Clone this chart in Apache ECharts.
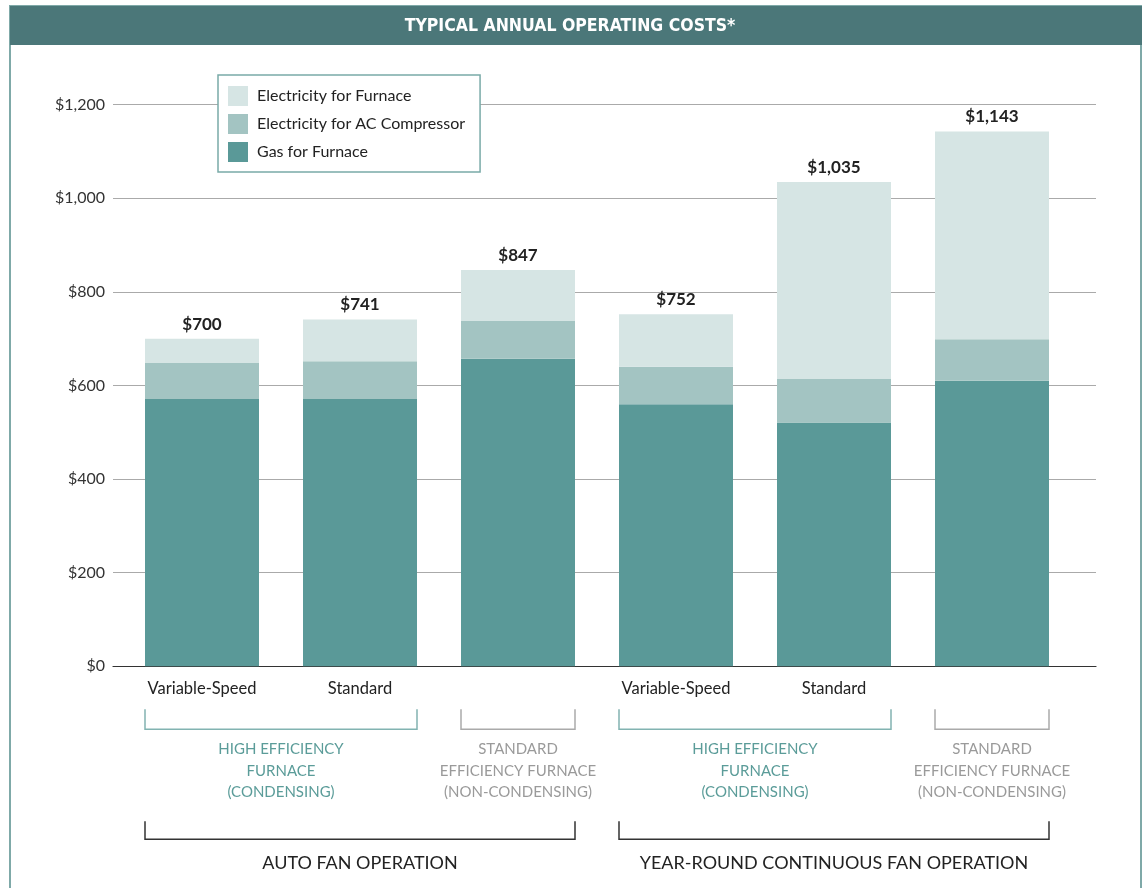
<!DOCTYPE html>
<html>
<head>
<meta charset="utf-8">
<script src="https://cdn.jsdelivr.net/npm/echarts@6/dist/echarts.min.js"></script>
<style>
html,body{margin:0;padding:0;background:#fff;}
#chart{width:1147px;height:888px;}
</style>
</head>
<body>
<div id="chart"></div>
<script>
// ---- data ----
var categories = ['Variable-Speed', 'Standard', '', 'Variable-Speed', 'Standard', ''];
var gasFurnace = [571, 571, 657, 560, 521, 610];
var elecAC = [77, 81, 81, 80, 93, 89];
var elecFurnace = [52, 89, 109, 112, 421, 444];
var totals = [700, 741, 847, 752, 1035, 1143];
var seriesNames = ['Gas for Furnace', 'Electricity for AC Compressor', 'Electricity for Furnace'];
var yTicks = [0, 200, 400, 600, 800, 1000, 1200];
var titleText = 'TYPICAL ANNUAL OPERATING COSTS*';
var subGroups = [
  {from: 0, to: 1, lines: ['HIGH EFFICIENCY', 'FURNACE', '(CONDENSING)'], kind: 'high'},
  {from: 2, to: 2, lines: ['STANDARD', 'EFFICIENCY FURNACE', '(NON-CONDENSING)'], kind: 'std'},
  {from: 3, to: 4, lines: ['HIGH EFFICIENCY', 'FURNACE', '(CONDENSING)'], kind: 'high'},
  {from: 5, to: 5, lines: ['STANDARD', 'EFFICIENCY FURNACE', '(NON-CONDENSING)'], kind: 'std'}
];
var mainGroups = [
  {from: 0, to: 2, text: 'AUTO FAN OPERATION'},
  {from: 3, to: 5, text: 'YEAR-ROUND CONTINUOUS FAN OPERATION'}
];

// ---- styles ----
var FONT = 'Lato, "Open Sans", sans-serif';
var C_GAS = '#5a9998', C_AC = '#a3c4c2', C_EL = '#d6e5e4';
var C_HEAD = '#4b7779', C_BORDER = '#7fa9a8';
var C_TEAL_TXT = '#5b9c99', C_TEAL_LINE = '#82b3b1', C_GRAY_TXT = '#9a9a9a', C_GRAY_LINE = '#aaaaaa';
var BAR_W = 114;
var Y_MIN = yTicks[0], Y_MAX = yTicks[yTicks.length - 1], Y_STEP = yTicks[1] - yTicks[0];

function money(v) {
  return '$' + String(v).replace(/\B(?=(\d{3})+(?!\d))/g, ',');
}

var chart = echarts.init(document.getElementById('chart'), null, {renderer: 'canvas'});

var gridTop = 104.7, gridBottom = 221.7;

var option = {
  backgroundColor: '#fff',
  animation: false,
  textStyle: {fontFamily: FONT},
  legend: {
    orient: 'vertical',
    left: 218, top: 75,
    padding: [11, 15, 10, 10],
    itemWidth: 20, itemHeight: 20, itemGap: 8,
    backgroundColor: '#fff',
    borderColor: '#79aaa8', borderWidth: 1.5,
    icon: 'rect',
    data: [seriesNames[2], seriesNames[1], seriesNames[0]],
    textStyle: {fontFamily: FONT, fontSize: 16, color: '#222', padding: [0, 0, 0, 4]},
    selectedMode: false
  },
  grid: [
    {left: 123, right: 76, top: gridTop, bottom: gridBottom},
    {left: 113, right: 51, top: gridTop, bottom: gridBottom}
  ],
  xAxis: [
    {
      type: 'category', gridIndex: 0, data: categories,
      axisLine: {show: false}, axisTick: {show: false},
      axisLabel: {fontFamily: FONT, fontSize: 16.5, color: '#222', margin: 14, interval: 0}
    },
    {
      type: 'category', gridIndex: 1, data: ['a'],
      axisLine: {show: true, lineStyle: {color: '#333', width: 1.2}},
      axisTick: {show: false}, axisLabel: {show: false}
    }
  ],
  yAxis: [
    {
      type: 'value', gridIndex: 0, min: Y_MIN, max: Y_MAX, interval: Y_STEP,
      show: false, splitLine: {show: false}
    },
    {
      type: 'value', gridIndex: 1, min: Y_MIN, max: Y_MAX, interval: Y_STEP,
      axisLine: {show: false}, axisTick: {show: false},
      axisLabel: {fontFamily: FONT, fontSize: 16, color: '#333', margin: 8, formatter: money},
      splitLine: {show: true, lineStyle: {color: '#aaaaaa', width: 1.2}}
    }
  ],
  series: [
    {
      name: seriesNames[0], type: 'bar', stack: 'cost', xAxisIndex: 0, yAxisIndex: 0,
      barWidth: BAR_W, data: gasFurnace, itemStyle: {color: C_GAS}, z: 5
    },
    {
      name: seriesNames[1], type: 'bar', stack: 'cost', xAxisIndex: 0, yAxisIndex: 0,
      barWidth: BAR_W, data: elecAC, itemStyle: {color: C_AC}, z: 5
    },
    {
      name: seriesNames[2], type: 'bar', stack: 'cost', xAxisIndex: 0, yAxisIndex: 0,
      barWidth: BAR_W, data: elecFurnace, itemStyle: {color: C_EL}, z: 5,
      label: {
        show: true, position: 'top', distance: 6,
        fontFamily: FONT, fontSize: 17, fontWeight: 'bold', color: '#222',
        formatter: function (p) { return money(totals[p.dataIndex]); }
      }
    }
  ]
};
chart.setOption(option);

// ---- frame, header and grouping brackets (positioned from the axis scales) ----
function px(i) { return chart.convertToPixel({xAxisIndex: 0}, i); }
var base = chart.convertToPixel({yAxisIndex: 0}, 0);
var els = [];
els.push({type: 'rect', shape: {x: 10, y: 6, width: 1131, height: 900}, style: {fill: null, stroke: C_BORDER, lineWidth: 2}, z: 0, silent: true});
els.push({type: 'rect', shape: {x: 10, y: 6, width: 1132, height: 39}, style: {fill: C_HEAD}, z: 1, silent: true});
els.push({type: 'text', x: 570, y: 26, style: {text: titleText, fill: '#fff', font: 'bold 17.5px "Liberation Sans Narrow", "DejaVu Sans Condensed", sans-serif', textAlign: 'center', textVerticalAlign: 'middle'}, z: 2, silent: true});

function bracket(x1, x2, yTop, yBot, color) {
  return {type: 'polyline', shape: {points: [[x1, yTop], [x1, yBot], [x2, yBot], [x2, yTop]]},
    style: {stroke: color, lineWidth: 1.5, fill: null}, z: 2, silent: true};
}
subGroups.forEach(function (g) {
  var x1 = px(g.from) - BAR_W / 2, x2 = px(g.to) + BAR_W / 2;
  var lc = g.kind === 'high' ? C_TEAL_LINE : C_GRAY_LINE;
  var tc = g.kind === 'high' ? C_TEAL_TXT : C_GRAY_TXT;
  els.push(bracket(x1, x2, base + 43, base + 63, lc));
  g.lines.forEach(function (t, k) {
    els.push({type: 'text', x: (x1 + x2) / 2, y: base + 83 + k * 21.5,
      style: {text: t, fill: tc, font: '15px ' + FONT, textAlign: 'center', textVerticalAlign: 'middle'}, z: 2, silent: true});
  });
});
mainGroups.forEach(function (g) {
  var x1 = px(g.from) - BAR_W / 2, x2 = px(g.to) + BAR_W / 2;
  els.push(bracket(x1, x2, base + 155, base + 173, '#333'));
  els.push({type: 'text', x: (x1 + x2) / 2, y: base + 197,
    style: {text: g.text, fill: '#222', font: '18px ' + FONT, textAlign: 'center', textVerticalAlign: 'middle'}, z: 2, silent: true});
});
chart.setOption({graphic: {elements: els}});
</script>
</body>
</html>
